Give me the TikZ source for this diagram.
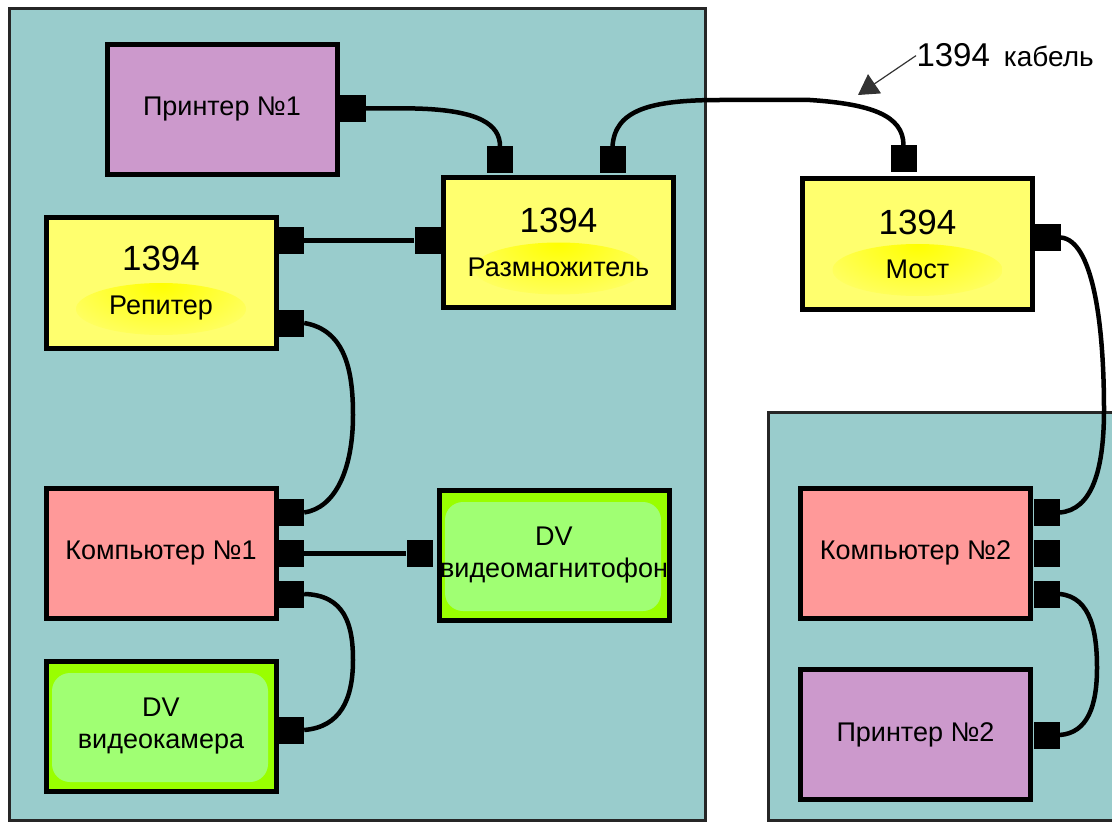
\documentclass[tikz,border=0pt]{standalone}
\usepackage{fontspec}
\setmainfont{Liberation Sans}
\usetikzlibrary{arrows.meta}

\definecolor{panelcol}{RGB}{153,204,204}
\definecolor{printcol}{RGB}{204,153,204}
\definecolor{pccol}{RGB}{255,153,153}
\definecolor{netcol}{RGB}{255,255,110}
\definecolor{netglow}{RGB}{255,255,0}
\definecolor{dvcol}{RGB}{153,255,0}
\definecolor{dvglow}{RGB}{160,255,115}

\newcommand{\bignum}[1]{{\fontsize{35}{43}\selectfont #1}}

\begin{document}
\begin{tikzpicture}[x=1pt,y=-1pt,
    panel/.style={fill=panelcol, draw=black!85, line width=3pt},
    device/.style={draw=black, line width=5pt, minimum width=230pt, minimum height=130pt,
        inner sep=0pt, align=center, font=\fontsize{27}{44}\selectfont},
    printbox/.style={device, fill=printcol},
    pcbox/.style={device, fill=pccol},
    netbox/.style={device, fill=netcol, path picture={
        \shade[inner color=netglow, outer color=netcol]
            ([yshift=-26pt]path picture bounding box.center) ellipse (85pt and 26pt);}},
    dvbox/.style={device, fill=dvcol, font=\fontsize{27}{32}\selectfont, path picture={
        \fill[dvglow, rounded corners=18pt]
            ([shift={(6pt,-12pt)}]path picture bounding box.north west) rectangle
            ([shift={(-8pt,9pt)}]path picture bounding box.south east);}},
    port/.style={fill=black, minimum width=26pt, minimum height=27pt, inner sep=0pt},
    cable/.style={line width=4.5pt, black}]

    \useasboundingbox (0,0) rectangle (1112,824);

    % rooms
    \draw[panel] (9,9) rectangle (705,820);
    \fill[panelcol] (768,412) rectangle (1112,820);
    \draw[line width=3pt, black!85] (1112,412) -- (768,412) -- (768,820) -- (1112,820);

    % devices
    \node[printbox] (printer1) at (222,109.5) {Принтер №1};
    \node[netbox] (hub) at (558.5,242.5) {\bignum{1394}\\Размножитель};
    \node[netbox] (repeater) at (161,283) {\bignum{1394}\\Репитер};
    \node[netbox] (bridge) at (917.5,244) {\bignum{1394}\\Мост};
    \node[pcbox] (pc1) at (161,553.5) {Компьютер №1};
    \node[dvbox] (vcr) at (554,555) {DV\\видеомагнитофон};
    \node[dvbox] (camera) at (161,726) {DV\\видеокамера};
    \node[pcbox] (pc2) at (915.5,553) {Компьютер №2};
    \node[printbox] (printer2) at (915.5,734.5) {Принтер №2};

    % ports
    \node[port] (prn1out) at (353,108.5) {};
    \node[port] (hubtop1) at (500,160) {};
    \node[port] (hubtop2) at (612.5,160) {};
    \node[port] (hubleft) at (427.5,240.5) {};
    \node[port] (reptop) at (291,240.5) {};
    \node[port] (repbot) at (291,323) {};
    \node[port] (bridgetop) at (903.5,159) {};
    \node[port] (bridgeout) at (1047.5,237.5) {};
    \node[port] (vcrin) at (419.5,553.5) {};
    \node[port] (camout) at (291,730) {};
    \node[port] (prn2out) at (1046.5,735) {};
    \foreach \y/\n in {512.5/a, 553.5/b, 594/c} {
        \node[port] (pc1\n) at (291,\y) {};
        \node[port] (pc2\n) at (1046.5,\y) {};
    }

    % cables
    \draw[cable] (prn1out.east) -- (415,108.5) .. controls (480,110) and (500,125) .. (hubtop1.north);
    \draw[cable] (hubtop2.north) .. controls (615,110) and (650,100) .. (720,100) -- (810,100)
        .. controls (870,104) and (903.5,115) .. (bridgetop.north);
    \draw[cable] (reptop.east) -- (hubleft.west);
    \draw[cable] (repbot.east) .. controls (345,330) and (353,370) .. (353,415)
        .. controls (353,470) and (335,508) .. (pc1a.east);
    \draw[cable] (pc1b.east) -- (vcrin.west);
    \draw[cable] (pc1c.east) .. controls (345,595) and (353,625) .. (353,660)
        .. controls (353,700) and (340,727) .. (camout.east);
    \draw[cable] (bridgeout.east) .. controls (1092,240) and (1104,320) .. (1104,410)
        .. controls (1104,470) and (1092,510) .. (pc2a.east);
    \draw[cable] (pc2c.east) .. controls (1092,597) and (1097,635) .. (1097,668)
        .. controls (1097,705) and (1088,733) .. (prn2out.east);

    % label of the cable
    \node[anchor=base west] (cablelabel) at (913,67)
        {\fontsize{33}{33}\selectfont 1394\hspace{14pt}\fontsize{28}{28}\selectfont кабель};
    \coordinate (cabletip) at (858,95);
    \draw[-{Triangle[length=20pt,width=23pt]}, line width=1.2pt, black!80]
        ([xshift=3pt]cablelabel.west) -- (cabletip);
\end{tikzpicture}
\end{document}
